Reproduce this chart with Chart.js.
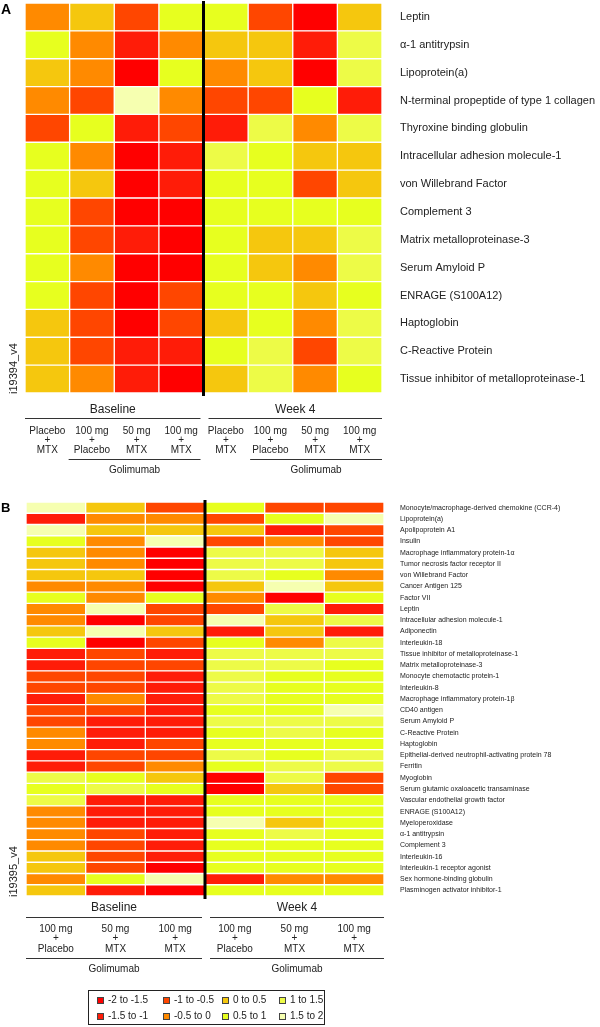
<!DOCTYPE html>
<html>
<head>
<meta charset="utf-8">
<script src="https://cdn.jsdelivr.net/npm/chart.js@4.4.1/dist/chart.umd.min.js"></script>
<style>
  body { margin: 0; background: #fff; font-family: "Liberation Sans", Arial, sans-serif; }
  #wrapA { position: absolute; left: 0; top: 0; width: 600px; height: 490px; }
  #wrapB { position: absolute; left: 0; top: 490px; width: 600px; height: 537px; }
  #legend { position: absolute; left: 88px; top: 990px; width: 235px; height: 33px; border: 1.5px solid #222; }
  .lg { position: absolute; display: flex; align-items: center; font-size: 10px; line-height: 12px; color: #222; white-space: nowrap; }
  .lg i { display: inline-block; width: 5px; height: 5px; border: 1px solid #444; margin-right: 4px; }
</style>
</head>
<body>
<div id="wrapA"><canvas id="chartA"></canvas></div>
<div id="wrapB"><canvas id="chartB"></canvas></div>
<div id="legend"></div>
<script>
// ---- panel A (i19394_v4): 14 proteins x 8 groups, values are standardized levels
const proteinsA = [
  'Leptin', 'α-1 antitrypsin', 'Lipoprotein(a)', 'N-terminal propeptide of type 1 collagen',
  'Thyroxine binding globulin', 'Intracellular adhesion molecule-1', 'von Willebrand Factor',
  'Complement 3', 'Matrix metalloproteinase-3', 'Serum Amyloid P', 'ENRAGE (S100A12)',
  'Haptoglobin', 'C-Reactive Protein', 'Tissue inhibitor of metalloproteinase-1'
];
const treatmentsA = [['Placebo', '+', 'MTX'], ['100 mg', '+', 'Placebo'], ['50 mg', '+', 'MTX'], ['100 mg', '+', 'MTX']];
const valuesA = [
  [-0.25, 0.25, -0.75, 0.75,   0.75, -0.75, -1.75, 0.25],
  [0.75, -0.25, -1.25, -0.25,  0.25, 0.25, -1.25, 1.25],
  [0.25, -0.25, -1.75, 0.75,   -0.25, 0.25, -1.75, 1.25],
  [-0.25, -0.75, 1.75, -0.25,  -0.75, -0.75, 0.75, -1.25],
  [-0.75, 0.75, -1.25, -0.75,  -1.25, 1.25, -0.25, 1.25],
  [0.75, -0.25, -1.75, -1.25,  1.25, 0.75, 0.25, 0.25],
  [0.75, 0.25, -1.75, -1.25,   0.75, 0.75, -0.75, 0.25],
  [0.75, -0.75, -1.75, -1.75,  0.75, 0.75, 0.75, 0.75],
  [0.75, -0.75, -1.25, -1.75,  0.75, 0.25, 0.25, 1.25],
  [0.75, -0.25, -1.75, -1.75,  0.75, 0.25, -0.25, 1.25],
  [0.75, -0.75, -1.75, -0.75,  0.75, 0.75, 0.25, 0.75],
  [0.25, -0.75, -1.75, -0.75,  0.25, 0.75, -0.25, 1.25],
  [0.25, -0.75, -1.25, -1.25,  0.75, 1.25, -0.75, 1.25],
  [0.25, -0.25, -1.25, -1.75,  0.25, 1.25, -0.25, 0.75]
];

// ---- panel B (i19395_v4): 35 proteins x 6 groups
const proteinsB = [
  'Monocyte/macrophage-derived chemokine (CCR-4)', 'Lipoprotein(a)', 'Apolipoprotein A1', 'Insulin',
  'Macrophage inflammatory protein-1α', 'Tumor necrosis factor receptor II', 'von Willebrand Factor',
  'Cancer Antigen 125', 'Factor VII', 'Leptin', 'Intracellular adhesion molecule-1', 'Adiponectin',
  'Interleukin-18', 'Tissue inhibitor of metalloproteinase-1', 'Matrix metalloproteinase-3',
  'Monocyte chemotactic protein-1', 'Interleukin-8', 'Macrophage inflammatory protein-1β', 'CD40 antigen',
  'Serum Amyloid P', 'C-Reactive Protein', 'Haptoglobin', 'Epithelial-derived neutrophil-activating protein 78',
  'Ferritin', 'Myoglobin', 'Serum glutamic oxaloacetic transaminase', 'Vascular endothelial growth factor',
  'ENRAGE (S100A12)', 'Myeloperoxidase', 'α-1 antitrypsin', 'Complement 3', 'Interleukin-16',
  'Interleukin-1 receptor agonist', 'Sex hormone-binding globulin', 'Plasminogen activator inhibitor-1'
];
const treatmentsB = [['100 mg', '+', 'Placebo'], ['50 mg', '+', 'MTX'], ['100 mg', '+', 'MTX']];
const valuesB = [
  [1.75, 0.25, -0.75,   0.75, -0.75, -0.75],
  [-1.25, -0.25, -0.25, -0.75, 0.75, 1.75],
  [1.75, 0.25, 0.25,    0.25, -1.25, -0.75],
  [0.75, -0.25, 1.75,   -0.75, -0.25, -0.75],
  [0.25, -0.25, -1.75,  1.25, 1.25, 0.25],
  [0.25, -0.25, -1.75,  1.25, 1.25, 0.25],
  [0.25, 0.25, -1.75,   1.25, 0.75, -0.25],
  [-0.25, -0.25, -1.75, 0.25, 1.75, 0.25],
  [0.75, -0.25, 0.75,   -0.25, -1.75, 0.75],
  [-0.25, 1.75, -0.75,  -0.75, 1.25, -1.25],
  [-0.25, -1.75, -0.75, 1.75, 0.25, 1.25],
  [0.25, 1.75, 0.25,    -1.25, 0.25, -1.25],
  [0.75, -1.75, -0.75,  0.75, -0.25, 1.25],
  [-1.25, -0.75, -1.25, 1.25, 1.25, 1.25],
  [-1.25, -0.75, -0.75, 1.25, 1.25, 0.75],
  [-0.75, -0.75, -1.25, 1.25, 0.75, 0.75],
  [-0.75, -0.75, -1.25, 1.25, 0.75, 0.75],
  [-1.25, -0.25, -1.25, 1.25, 0.75, 0.75],
  [-0.75, -0.75, -1.25, 0.75, 0.75, 1.75],
  [-0.75, -1.25, -1.25, 1.25, 1.25, 1.25],
  [-0.25, -1.25, -1.25, 0.75, 1.25, 0.75],
  [-0.25, -1.25, -0.75, 0.75, 0.75, 0.75],
  [-1.25, -0.75, -0.75, 1.25, 0.75, 1.25],
  [-1.25, -0.75, -0.25, 0.75, 1.25, 1.25],
  [1.25, 0.75, 0.25,    -1.75, 1.25, -0.75],
  [0.75, 1.25, 0.75,    -1.75, 0.25, -0.75],
  [1.25, -1.25, -1.25,  0.75, 0.75, 0.75],
  [-0.25, -1.25, -1.25, 0.75, 0.75, 0.75],
  [-0.25, -1.25, -1.25, 1.75, 0.25, 0.75],
  [-0.25, -0.75, -1.25, 0.75, 1.25, 0.75],
  [-0.25, -0.75, -1.25, 0.75, 0.75, 0.75],
  [0.25, -0.75, -1.25,  0.75, 0.75, 0.75],
  [0.25, -0.75, -1.75,  0.75, 0.75, 0.75],
  [-0.25, 0.75, 1.75,   -1.25, -0.25, -0.25],
  [0.25, -1.25, -1.75,  0.75, 0.75, 0.75]
];

const groupLabels = ['Baseline', 'Week 4'];
const legendLabels = ['-2 to -1.5', '-1.5 to -1', '-1 to -0.5', '-0.5 to 0', '0 to 0.5', '0.5 to 1', '1 to 1.5', '1.5 to 2'];
const binColors = ['#FF0000', '#FF1C08', '#FF4600', '#FF8A00', '#F5C70E', '#E7FF1F', '#EDFB47', '#F6FFB0'];

function colorFor(v) {
  const i = Math.max(0, Math.min(7, Math.floor((v + 2) / 0.5)));
  return binColors[i];
}

// heatmap decorations: divider, group headers, treatment labels, golimumab bracket, id label
function decorPlugin(o) {
  return {
    id: 'decor',
    afterDraw(chart) {
      const { ctx, chartArea: a, scales: { x } } = chart;
      const n = o.treatments.length;
      const div = x.getPixelForValue(n);
      const b = a.bottom;
      ctx.save();
      ctx.strokeStyle = '#000';
      ctx.lineWidth = 3;
      ctx.beginPath();
      ctx.moveTo(div, a.top - 2);
      ctx.lineTo(div, b + 3);
      ctx.stroke();

      ctx.fillStyle = '#222';
      ctx.strokeStyle = '#333';
      ctx.lineWidth = 1;
      ctx.textAlign = 'center';
      ctx.textBaseline = 'middle';
      const spans = [[a.left, div - 3], [div + 5, a.right]];
      spans.forEach(([l, r], g) => {
        ctx.font = '12px "Liberation Sans", Arial, sans-serif';
        ctx.fillText(groupLabels[g], (l + r) / 2, b + o.off.head);
        ctx.beginPath();
        ctx.moveTo(l, b + o.off.line1 + 0.5);
        ctx.lineTo(r, b + o.off.line1 + 0.5);
        ctx.stroke();
        ctx.font = '10px "Liberation Sans", Arial, sans-serif';
        o.treatments.forEach((t, c) => {
          const cx = x.getPixelForValue(g * n + c + 0.5);
          t.forEach((s, k) => ctx.fillText(s, cx, b + o.off.treat[k]));
        });
        const gl = Math.max(x.getPixelForValue(g * n + o.golStart) + (g ? 2 : -1), l);
        ctx.beginPath();
        ctx.moveTo(gl, b + o.off.line2 + 0.5);
        ctx.lineTo(r, b + o.off.line2 + 0.5);
        ctx.stroke();
        ctx.fillText('Golimumab', (gl + r) / 2, b + o.off.gol);
      });

      ctx.font = '11px "Liberation Sans", Arial, sans-serif';
      ctx.textAlign = 'left';
      ctx.translate(14, b + 1);
      ctx.rotate(-Math.PI / 2);
      ctx.fillText(o.id, 0, 0);
      ctx.setTransform(1, 0, 0, 1, 0, 0);
      ctx.restore();

      ctx.save();
      ctx.fillStyle = '#000';
      ctx.font = 'bold ' + o.letterSize + 'px "Liberation Sans", Arial, sans-serif';
      ctx.textAlign = 'left';
      ctx.textBaseline = 'top';
      ctx.fillText(o.letter, 1, o.letterY);
      ctx.restore();
    }
  };
}

function heatmap(canvasId, proteins, values, treatments, o) {
  const nCols = values[0].length;
  const datasets = [];
  for (let c = 0; c < nCols; c++) {
    datasets.push({
      label: groupLabels[Math.floor(c / treatments.length)] + ' ' + treatments[c % treatments.length].join(' '),
      data: values.map(() => 1),
      levels: values.map(r => r[c]),
      backgroundColor: values.map(r => colorFor(r[c])),
      borderColor: '#fff',
      borderWidth: 1,
      borderSkipped: false,
      barPercentage: 1,
      categoryPercentage: 1,
    });
  }
  return new Chart(document.getElementById(canvasId), {
    type: 'bar',
    data: { labels: proteins, datasets },
    options: {
      indexAxis: 'y',
      responsive: true,
      maintainAspectRatio: false,
      animation: false,
      layout: { padding: o.padding },
      plugins: {
        legend: { display: false },
        tooltip: {
          callbacks: { label: c => ` ${c.dataset.label}: ${c.dataset.levels[c.dataIndex]}` },
        },
      },
      scales: {
        x: { type: 'linear', stacked: true, min: 0, max: nCols, display: false },
        y: {
          stacked: true,
          position: 'right',
          grid: { display: false, drawTicks: false },
          border: { display: false },
          ticks: {
            autoSkip: false,
            padding: o.tickPad,
            color: '#222',
            font: { size: o.labelSize, family: '"Liberation Sans", Arial, sans-serif' },
          },
          afterFit: s => {
            s.width = o.axisWidth;
            // tick padding shouldn't push the grid down
            s.paddingTop = 0;
            s.paddingBottom = 0;
          },
        },
      },
    },
    plugins: [decorPlugin(Object.assign({ treatments }, o))],
  });
}

heatmap('chartA', proteinsA, valuesA, treatmentsA, {
  padding: { left: 25, top: 3, right: 0, bottom: 97 },
  axisWidth: 218, tickPad: 18, labelSize: 11,
  golStart: 1, id: 'i19394_v4', letter: 'A', letterSize: 14, letterY: 3,
  off: { head: 17, line1: 25, treat: [38, 47, 57], line2: 66, gol: 77 },
});

heatmap('chartB', proteinsB, valuesB, treatmentsB, {
  padding: { left: 26, top: 12, right: 0, bottom: 131 },
  axisWidth: 216, tickPad: 16, labelSize: 7,
  golStart: 0, id: 'i19395_v4', letter: 'B', letterSize: 13, letterY: 12,
  off: { head: 12, line1: 21, treat: [33, 42, 53], line2: 62, gol: 73 },
});

// legend: two rows, four columns (column-major order)
const legend = document.getElementById('legend');
const colX = [8, 74, 133, 190];
legendLabels.forEach((t, i) => {
  const el = document.createElement('div');
  el.className = 'lg';
  el.style.left = colX[Math.floor(i / 2)] + 'px';
  el.style.top = (i % 2 ? 19 : 3) + 'px';
  el.innerHTML = '<i style="background:' + binColors[i] + '"></i>' + t;
  legend.appendChild(el);
});
</script>
</body>
</html>
